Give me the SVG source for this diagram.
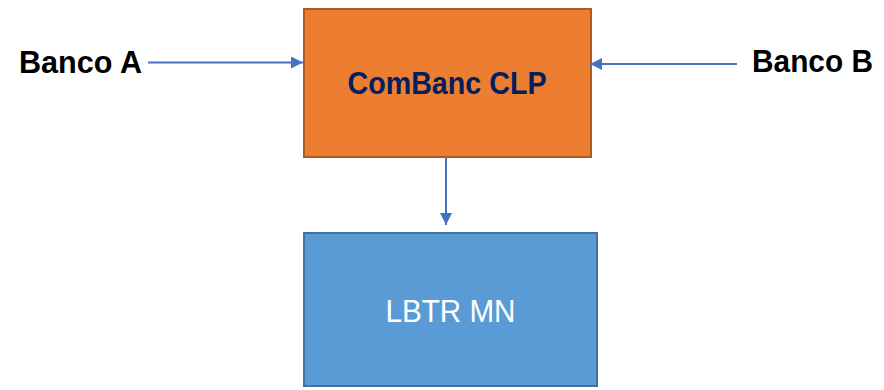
<svg xmlns="http://www.w3.org/2000/svg" width="884" height="390" viewBox="0 0 884 390">
<style>
.lbl{font-family:"Liberation Sans",Arial,sans-serif;font-weight:bold;font-size:31px;fill:#000}
.box-o{fill:#ED7D31;stroke:#AE5A21;stroke-width:2}
.box-b{fill:#5B9BD5;stroke:#41719C;stroke-width:2}
.conn{stroke:#4472C4;stroke-width:2;fill:none}
</style>
<defs>
<marker id="ah" viewBox="0 0 10 10" refX="10" refY="5" markerWidth="6" markerHeight="6" markerUnits="strokeWidth" orient="auto">
<path d="M0,0 L10,5 L0,10 z" fill="#4472C4"/>
</marker>
</defs>
<g id="combanc">
<rect class="box-o" x="304" y="9" width="287" height="148"/>
<text x="447" y="94" text-anchor="middle" textLength="199" lengthAdjust="spacingAndGlyphs" style="font-family:'Liberation Sans',Arial,sans-serif;font-weight:bold;font-size:31px;fill:#002060">ComBanc CLP</text>
</g>
<g id="lbtr">
<rect class="box-b" x="304" y="233" width="293" height="153"/>
<text x="450.5" y="322" text-anchor="middle" textLength="130" lengthAdjust="spacingAndGlyphs" style="font-family:'Liberation Sans',Arial,sans-serif;font-size:32px;fill:#fff">LBTR MN</text>
</g>
<g id="bancoA">
<text class="lbl" x="19" y="73" textLength="123" lengthAdjust="spacingAndGlyphs">Banco A</text>
</g>
<g id="bancoB">
<text class="lbl" x="752" y="72" textLength="121" lengthAdjust="spacingAndGlyphs">Banco B</text>
</g>
<g id="connectors">
<line class="conn" x1="148" y1="62.5" x2="303" y2="62.5" marker-end="url(#ah)"/>
<line class="conn" x1="737" y1="64" x2="590" y2="64" marker-end="url(#ah)"/>
<line class="conn" x1="446" y1="157" x2="446" y2="225" marker-end="url(#ah)"/>
</g>
</svg>
